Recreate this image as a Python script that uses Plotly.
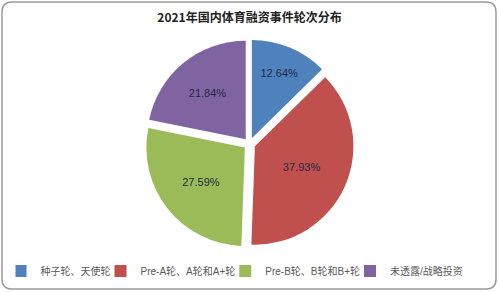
import plotly.graph_objects as go

labels = ["种子轮、天使轮", "Pre-A轮、A轮和A+轮", "Pre-B轮、B轮和B+轮", "未透露/战略投资"]
values = [12.64, 37.93, 27.59, 21.84]
colors = ["#4F81BD", "#C0504D", "#9BBB59", "#8064A2"]
title = "2021年国内体育融资事件轮次分布"

fig = go.Figure(go.Pie(
    labels=labels, values=values, sort=False, direction="clockwise", rotation=0,
    marker=dict(colors=colors, line=dict(color="white", width=0)),
    pull=[0.06, 0.06, 0.06, 0.06],
    texttemplate="%{value:.2f}%", textposition="inside", insidetextorientation="horizontal",
    textfont=dict(family="Liberation Sans, Arial", size=11, color="#1F2A44"),
    hoverinfo="label+percent",
    domain=dict(x=[0.1, 0.9], y=[0.15, 0.865]),
))

W, H = 499, 292
def px(x): return x / W
def py(y): return 1 - y / H
x0, x1, y0, y1, r = 2, 496, 2, 289, 10
path = (f"M {px(x0+r)},{py(y0)} L {px(x1-r)},{py(y0)} Q {px(x1)},{py(y0)} {px(x1)},{py(y0+r)} "
        f"L {px(x1)},{py(y1-r)} Q {px(x1)},{py(y1)} {px(x1-r)},{py(y1)} "
        f"L {px(x0+r)},{py(y1)} Q {px(x0)},{py(y1)} {px(x0)},{py(y1-r)} "
        f"L {px(x0)},{py(y0+r)} Q {px(x0)},{py(y0)} {px(x0+r)},{py(y0)} Z")

fig.update_layout(
    width=W, height=H, margin=dict(l=0, r=0, t=0, b=0),
    paper_bgcolor="white", plot_bgcolor="white",
    title=dict(text="<b>" + title + "</b>", x=0.5, xanchor="center", y=py(18), yanchor="middle",
               font=dict(family="Noto Sans CJK SC", size=12, color="#222222")),
    showlegend=True,
    legend=dict(orientation="h", x=0.485, xanchor="center", y=py(271), yanchor="middle",
                font=dict(family="Liberation Sans, Noto Sans CJK SC", size=10, color="#595959"),
                itemwidth=30, indentation=-15, tracegroupgap=0, itemsizing="constant"),
    shapes=[dict(type="path", xref="paper", yref="paper", path=path,
                 line=dict(color="#9A9A9A", width=1.5))],
)

fig.write_html("out.html")
